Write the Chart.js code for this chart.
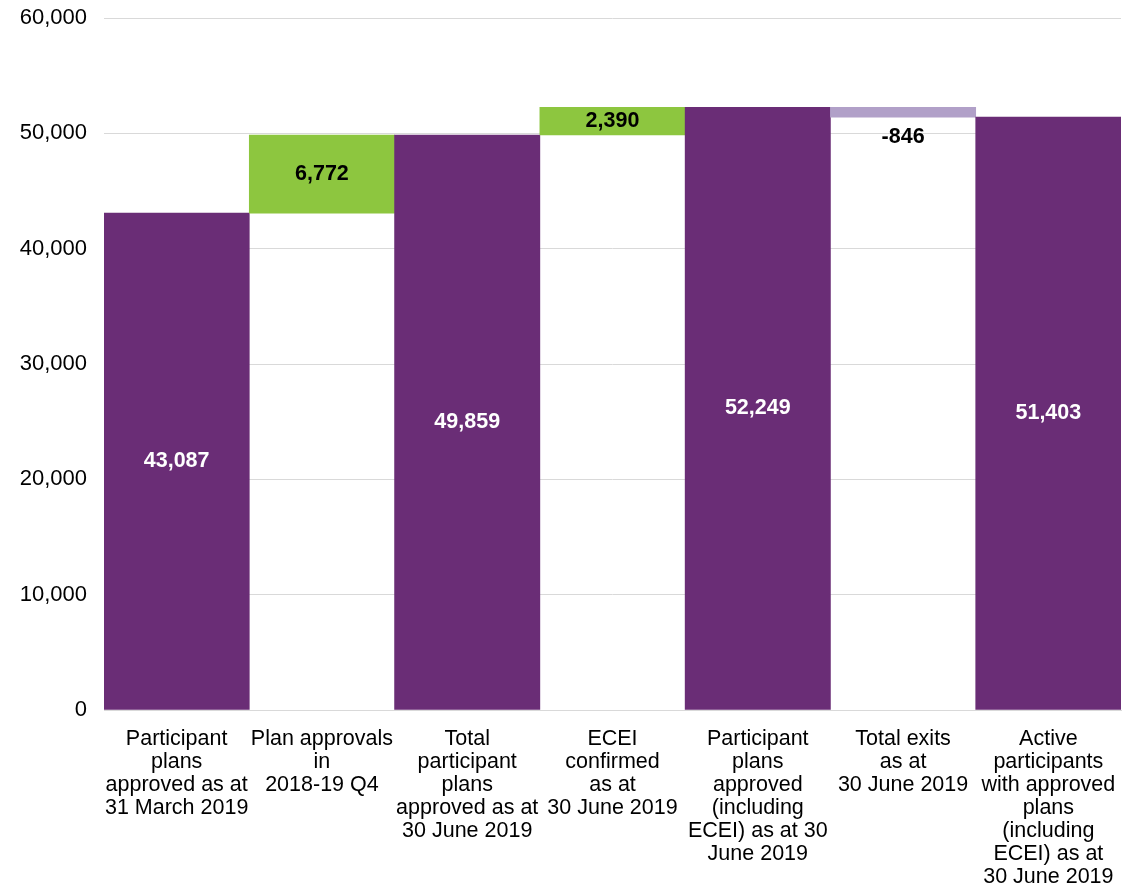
<!DOCTYPE html>
<html>
<head>
<meta charset="utf-8">
<script src="https://cdn.jsdelivr.net/npm/chart.js@4"></script>
<style>
  html,body{margin:0;padding:0;background:#fff;}
  #wrap{width:1132px;height:893px;}
</style>
</head>
<body>
<div id="wrap"><canvas id="chart" width="1132" height="893"></canvas></div>
<script>
const categories=[
    ["Participant","plans","approved as at","31 March 2019"],
    ["Plan approvals","in","2018-19 Q4"],
    ["Total","participant","plans","approved as at","30 June 2019"],
    ["ECEI","confirmed","as at","30 June 2019"],
    ["Participant","plans","approved","(including","ECEI) as at 30","June 2019"],
    ["Total exits","as at","30 June 2019"],
    ["Active","participants","with approved","plans","(including","ECEI) as at","30 June 2019"]
];
const values=[43087,6772,49859,2390,52249,-846,51403];
const barLow=[0,43087,0,49859,0,51403,0];
const barHigh=[43087,49859,49859,52249,52249,52249,51403];
const kinds=["total","up","total","up","total","down","total"];
const yTicks=[0,10000,20000,30000,40000,50000,60000];

const colors={total:'rgb(106,45,118)',up:'rgb(141,198,63)',down:'rgb(177,160,200)'};
const labelColors={total:'#ffffff',up:'#000000',down:'#000000'};

const valueLabels={
    id:'valueLabels',
    afterDatasetsDraw:(chart)=>{
        const ctx=chart.ctx;
        const meta=chart.getDatasetMeta(0);
        ctx.save();
        ctx.font='bold 21.5px "Liberation Sans", Arial, sans-serif';
        ctx.textAlign='center';
        ctx.textBaseline='middle';
        meta.data.forEach((bar,i)=>{
            const txt=values[i].toLocaleString('en-US');
            let y=(bar.y+bar.base)/2;
            if(kinds[i]==='down'){
                y=Math.max(bar.y,bar.base)+20; // label sits under the small bar
            }
            ctx.fillStyle=labelColors[kinds[i]];
            ctx.fillText(txt,bar.x,y);
        });
        ctx.restore();
    }
};

new Chart(document.getElementById('chart'),{
    type:'bar',
    data:{
        labels:categories,
        datasets:[{
            data:barLow.map((v,i)=>[v,barHigh[i]]),
            backgroundColor:kinds.map(k=>colors[k]),
            borderWidth:0,
            categoryPercentage:1.0,
            barPercentage:1.0
        }]
    },
    options:{
        responsive:false,
        animation:false,
        layout:{padding:{top:18,right:11,left:0,bottom:0}},
        plugins:{legend:{display:false},tooltip:{enabled:false}},
        scales:{
            x:{
                grid:{display:false,drawTicks:false},
                border:{display:true,color:'#d9d9d9',width:1},
                ticks:{
                    color:'#000',
                    font:{family:'"Liberation Sans", Arial, sans-serif',size:21.5,lineHeight:1.07},
                    padding:18,
                    maxRotation:0,
                    autoSkip:false
                },
                afterFit:(axis)=>{axis.height=183;axis.paddingLeft=0;axis.paddingRight=0;}
            },
            y:{
                min:0,
                max:60000,
                afterBuildTicks:(axis)=>{axis.ticks=yTicks.map(v=>({value:v}));},
                grid:{color:'#d9d9d9',drawTicks:false},
                border:{display:false},
                ticks:{
                    color:'#000',
                    font:{family:'"Liberation Sans", Arial, sans-serif',size:22},
                    padding:17,
                    callback:(v)=>v.toLocaleString('en-US')
                },
                afterFit:(axis)=>{axis.width=104;axis.paddingTop=0;axis.paddingBottom=0;}
            }
        }
    },
    plugins:[valueLabels]
});
</script>
</body>
</html>
